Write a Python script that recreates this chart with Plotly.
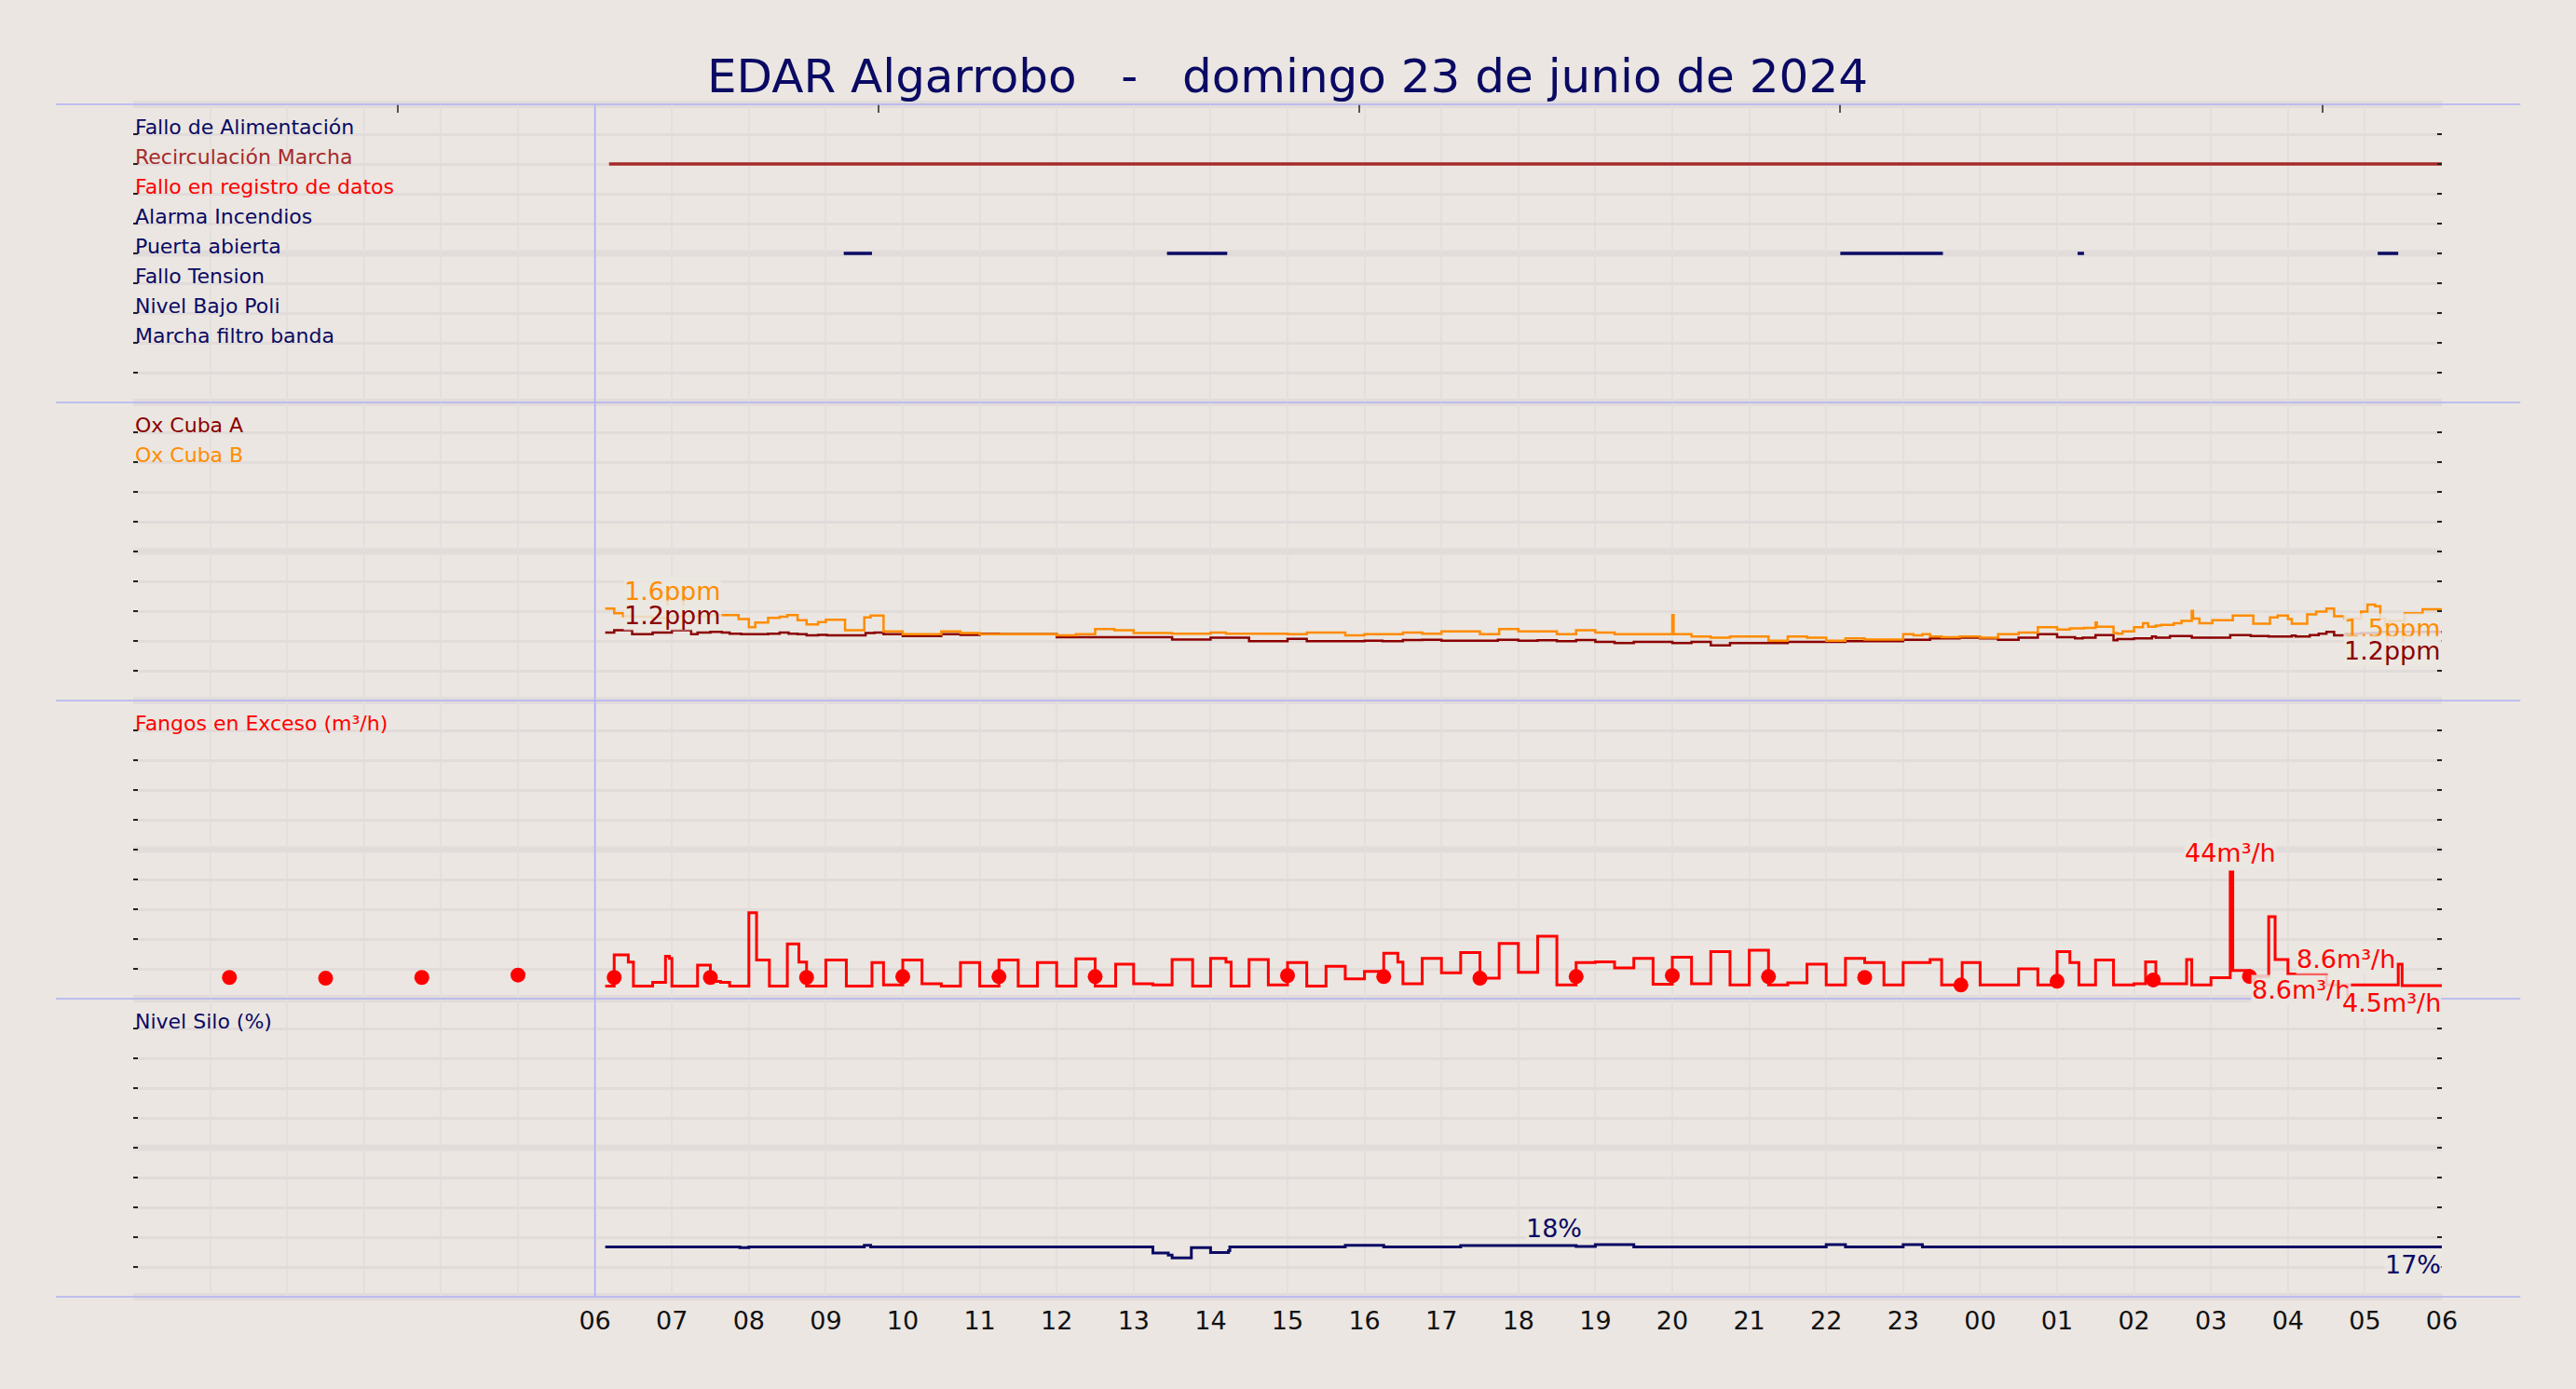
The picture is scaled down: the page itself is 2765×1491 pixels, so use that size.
import plotly.graph_objects as go
from plotly.subplots import make_subplots
from datetime import datetime, timedelta

DAY0 = datetime(2024, 6, 23)
FONT = "DejaVu Sans"
BG = "#ebe6e1"
GRID_H = "#e1dcda"
GRID_V = "#e4dfdc"
BLUE = "#b0b0f4"
NAVY = "#0a0a64"

# ---------------- data ----------------
hour_labels = ["", "", "", "", "", "", "06", "07", "08", "09", "10", "11", "12", "13", "14",
               "15", "16", "17", "18", "19", "20", "21", "22", "23", "00", "01", "02", "03",
               "04", "05", "06"]
top_tick_times = ["03:26", "09:41", "15:56", "22:11", "04:27"]

signal_labels = ["Fallo de Alimentación", "Recirculación Marcha", "Fallo en registro de datos",
                 "Alarma Incendios", "Puerta abierta", "Fallo Tension", "Nivel Bajo Poli",
                 "Marcha filtro banda"]
signal_colors = [NAVY, "#a52a2a", "#ff0000", NAVY, NAVY, NAVY, NAVY, NAVY]
signal_levels = [9, 8, 7, 6, 5, 4, 3, 2]

recirc_start = ["06:11"]
recirc_end = ["06:00"]
puerta_start = ["09:14", "13:26", "22:11", "01:16", "05:10"]
puerta_end = ["09:36", "14:13", "23:31", "01:21", "05:26"]

oxb_t = ["06:08", "06:15", "06:22", "06:30", "06:45", "07:00", "07:30", "07:52", "08:00", "08:05",
         "08:15", "08:24", "08:30", "08:38", "08:45", "08:54", "09:00", "09:15", "09:30", "09:35",
         "09:45", "10:00", "10:30", "10:45", "11:00", "12:00", "12:15", "12:30", "12:45", "13:00",
         "13:30", "14:00", "14:12", "15:00", "15:15", "15:45", "16:00", "16:30", "16:45", "17:00",
         "17:30", "17:45", "18:00", "18:30", "18:45", "19:00", "19:15", "20:00", "20:01", "20:15",
         "20:30", "20:45", "21:15", "21:30", "21:45", "22:00", "22:15", "22:30", "23:00", "23:08",
         "23:15", "23:21", "23:30", "23:44", "00:00", "00:14", "00:30", "00:45", "01:00", "01:10",
         "01:21", "01:30", "01:31", "01:44", "01:47", "01:51", "02:00", "02:07", "02:11", "02:17",
         "02:21", "02:31", "02:37", "02:45", "02:46", "02:51", "03:01", "03:17", "03:33", "03:46",
         "03:52", "04:00", "04:03", "04:15", "04:22", "04:30", "04:36", "04:44", "04:57", "05:02",
         "05:08", "05:12", "05:16", "05:19", "05:31", "05:45", "06:00"]
oxb_v = [1.58, 1.50, 1.45, 1.44, 1.42, 1.45, 1.47, 1.40, 1.26, 1.34,
         1.42, 1.44, 1.47, 1.38, 1.31, 1.35, 1.39, 1.21, 1.43, 1.46,
         1.19, 1.14, 1.19, 1.16, 1.14, 1.12, 1.14, 1.23, 1.21, 1.16,
         1.15, 1.17, 1.15, 1.14, 1.17, 1.12, 1.14, 1.17, 1.15, 1.19,
         1.14, 1.23, 1.19, 1.14, 1.21, 1.17, 1.14, 1.47, 1.14, 1.10,
         1.08, 1.10, 1.03, 1.10, 1.08, 1.03, 1.07, 1.05, 1.14, 1.12,
         1.14, 1.10, 1.09, 1.10, 1.08, 1.14, 1.17, 1.26, 1.22, 1.24,
         1.25, 1.34, 1.27, 1.16, 1.15, 1.19, 1.26, 1.33, 1.27, 1.29,
         1.30, 1.33, 1.37, 1.54, 1.41, 1.33, 1.38, 1.46, 1.32, 1.43,
         1.46, 1.40, 1.32, 1.48, 1.53, 1.58, 1.45, 1.41, 1.53, 1.65,
         1.62, 1.41, 1.29, 1.37, 1.50, 1.57, 1.57]

oxa_t = ["06:08", "06:15", "06:29", "06:45", "07:00", "07:15", "07:20", "07:30", "07:39", "07:45",
         "07:54", "08:15", "08:24", "08:31", "08:38", "08:45", "08:54", "09:01", "09:31", "09:38",
         "09:45", "10:00", "10:30", "10:45", "11:00", "11:15", "12:00", "13:30", "14:00", "14:30",
         "15:00", "15:15", "16:00", "16:14", "16:30", "16:45", "17:00", "17:44", "18:00", "18:15",
         "18:30", "18:45", "19:00", "19:15", "19:30", "20:00", "20:15", "20:30", "20:45", "21:30",
         "22:15", "23:00", "23:21", "23:44", "00:00", "00:14", "00:30", "00:45", "01:00", "01:14",
         "01:20", "01:30", "01:44", "01:47", "02:00", "02:14", "02:17", "02:28", "02:45", "03:15",
         "03:31", "03:45", "04:03", "04:06", "04:17", "04:24", "04:30", "04:36", "04:45", "04:57",
         "05:11", "06:00"]
oxa_v = [1.17, 1.21, 1.14, 1.17, 1.21, 1.14, 1.17, 1.18, 1.17, 1.15,
         1.14, 1.15, 1.17, 1.15, 1.14, 1.12, 1.13, 1.12, 1.16, 1.17,
         1.14, 1.11, 1.14, 1.13, 1.15, 1.14, 1.09, 1.05, 1.08, 1.02,
         1.06, 1.02, 1.03, 1.02, 1.04, 1.045, 1.03, 1.045, 1.03, 1.035,
         1.02, 1.04, 1.01, 0.99, 1.01, 0.99, 1.01, 0.95, 0.99, 1.01,
         1.02, 1.045, 1.07, 1.08, 1.07, 1.045, 1.08, 1.14, 1.09, 1.07,
         1.08, 1.125, 1.035, 1.055, 1.07, 1.10, 1.08, 1.11, 1.08, 1.125,
         1.11, 1.10, 1.115, 1.10, 1.125, 1.15, 1.18, 1.12, 1.15, 1.16,
         1.18, 1.18]

fangos_t = ["06:08", "06:15", "06:26", "06:30", "06:45", "06:55", "06:58", "07:00", "07:20", "07:30",
            "07:38", "07:45", "08:00", "08:06", "08:16", "08:30", "08:39", "08:45", "09:00", "09:16",
            "09:36", "09:45", "10:00", "10:15", "10:30", "10:45", "11:00", "11:15", "11:30", "11:45",
            "12:00", "12:15", "12:30", "12:46", "13:00", "13:15", "13:30", "13:46", "14:00", "14:12",
            "14:16", "14:30", "14:45", "15:00", "15:15", "15:30", "15:45", "16:00", "16:15", "16:26",
            "16:30", "16:45", "17:00", "17:15", "17:30", "17:45", "18:00", "18:15", "18:30", "18:45",
            "19:00", "19:15", "19:30", "19:45", "20:00", "20:15", "20:30", "20:45", "21:00", "21:15",
            "21:30", "21:45", "22:00", "22:15", "22:30", "22:45", "23:00", "23:21", "23:30", "23:46",
            "00:00", "00:30", "00:45", "01:00", "01:10", "01:17", "01:30", "01:44", "02:00", "02:09",
            "02:17", "02:41", "02:45", "03:00", "03:15", "03:17", "03:30", "03:45", "03:50", "04:00",
            "04:30", "05:00", "05:26", "05:29", "06:00"]
fangos_v = [4.4, 15.2, 12.7, 4.4, 5.7, 14.7, 14.0, 4.4, 11.65, 6.0,
            5.7, 4.4, 29.8, 13.4, 4.4, 19.0, 12.7, 4.4, 13.4, 4.4,
            12.5, 4.75, 13.4, 5.2, 4.4, 12.5, 4.4, 13.4, 4.4, 12.5,
            4.4, 13.8, 4.4, 12.0, 5.2, 4.75, 13.6, 4.4, 14.0, 12.7,
            4.4, 13.6, 4.75, 12.5, 4.4, 11.2, 6.9, 9.5, 15.75, 12.7,
            5.2, 14.0, 8.95, 16.0, 7.1, 19.2, 9.1, 21.7, 4.75, 12.5,
            12.8, 10.7, 14.0, 5.0, 14.4, 5.2, 16.3, 4.75, 16.8, 4.75,
            5.5, 12.0, 4.75, 14.0, 12.5, 4.75, 12.5, 13.6, 4.75, 12.5,
            4.75, 10.35, 4.75, 16.3, 12.5, 4.75, 13.4, 4.75, 5.2, 12.8,
            5.2, 13.6, 4.75, 7.3, 44.0, 9.8, 7.7, 28.5, 13.6, 8.6,
            4.75, 4.75, 12.0, 4.5, 4.5]

dots_t = ["01:15", "02:30", "03:45", "05:00", "06:15", "07:30", "08:45", "10:00", "11:15", "12:30",
          "15:00", "16:15", "17:30", "18:45", "20:00", "21:15", "22:30", "23:45", "01:00", "02:15",
          "03:30"]
dots_v = [7.35, 7.1, 7.35, 8.2, 7.35, 7.35, 7.35, 7.65, 7.65, 7.65,
          8.0, 7.65, 7.1, 7.65, 8.0, 7.65, 7.35, 4.75, 6.05, 6.5,
          7.7]

silo_t = ["06:08", "07:53", "08:00", "09:30", "09:35", "13:15", "13:27", "13:30", "13:45", "14:00",
          "14:14", "14:15", "15:45", "16:15", "17:15", "18:45", "19:00", "19:30", "22:00", "22:15",
          "23:00", "23:15", "06:00"]
silo_v = [17.3, 17.05, 17.3, 17.9, 17.3, 15.2, 14.5, 13.5, 17.05, 15.4,
          16.0, 17.3, 17.9, 17.3, 17.8, 17.5, 18.1, 17.3, 18.1, 17.3,
          18.1, 17.3, 17.3]


# ---------------- helpers ----------------
def to_dt(times, start_day=0):
    out, day, prev = [], start_day, None
    for s in times:
        h, m = map(int, s.split(":"))
        mins = h * 60 + m
        if prev is not None and mins < prev:
            day += 1
        prev = mins
        out.append(DAY0 + timedelta(days=day, hours=h, minutes=m))
    return out


def t1(s, day):
    h, m = map(int, s.split(":"))
    return DAY0 + timedelta(days=day, hours=h, minutes=m)


def segments(starts, ends, level):
    xs, ys = [], []
    s_dt = to_dt(starts)
    e_dt = to_dt(ends)
    for a, b in zip(s_dt, e_dt):
        if b < a:
            b = b + timedelta(days=1)
        xs += [a, b, None]
        ys += [level, level, None]
    return xs, ys


X0 = DAY0
X1 = DAY0 + timedelta(hours=30)
tickvals = [DAY0 + timedelta(hours=h) for h in range(31)]

fig = make_subplots(rows=4, cols=1, shared_xaxes=True, vertical_spacing=0)

# panel 1 signals
rx, ry = segments(recirc_start, recirc_end, signal_levels[1])
fig.add_trace(go.Scatter(x=rx, y=ry, mode="lines", line=dict(color="#a52a2a", width=3.5),
                         hoverinfo="skip"), row=1, col=1)
px_, py_ = segments(puerta_start, puerta_end, signal_levels[4])
fig.add_trace(go.Scatter(x=px_, y=py_, mode="lines", line=dict(color=NAVY, width=3.5),
                         hoverinfo="skip"), row=1, col=1)

# panel 2 oxygen
fig.add_trace(go.Scatter(x=to_dt(oxa_t), y=oxa_v, mode="lines", line_shape="hv",
                         line=dict(color="#8b0000", width=2.5), name="Ox Cuba A"), row=2, col=1)
fig.add_trace(go.Scatter(x=to_dt(oxb_t), y=oxb_v, mode="lines", line_shape="hv",
                         line=dict(color="#ff8c00", width=2.5), name="Ox Cuba B"), row=2, col=1)

# panel 3 fangos
fig.add_trace(go.Scatter(x=to_dt(fangos_t), y=fangos_v, mode="lines", line_shape="hv",
                         line=dict(color="#ff0000", width=3), name="Fangos"), row=3, col=1)
fig.add_trace(go.Scatter(x=to_dt(dots_t), y=dots_v, mode="markers",
                         marker=dict(color="#ff0000", size=16), name="Fangos pts"), row=3, col=1)

# panel 4 silo
fig.add_trace(go.Scatter(x=to_dt(silo_t), y=silo_v, mode="lines", line_shape="hv",
                         line=dict(color=NAVY, width=3), name="Silo"), row=4, col=1)

# dummy for top tick axis
fig.add_trace(go.Scatter(x=[X0], y=[None], xaxis="x5", yaxis="y", showlegend=False,
                         hoverinfo="skip"))

y_ranges = [(0, 10), (0, 5.12), (0, 103.5), (0, 103.5)]
for i, (lo, hi) in enumerate(y_ranges, start=1):
    fig.update_yaxes(row=i, col=1, range=[lo, hi], tick0=lo, dtick=(hi - lo) / 10,
                     showgrid=True, gridcolor=GRID_H, gridwidth=3, zeroline=False,
                     showticklabels=False, ticks="inside", ticklen=5, tickwidth=2,
                     tickcolor="#222", mirror="ticks", showline=False, fixedrange=True)
    fig.update_xaxes(row=i, col=1, type="date", range=[X0, X1], tickvals=tickvals,
                     ticktext=hour_labels, showgrid=True, gridcolor=GRID_V, gridwidth=2,
                     zeroline=False, ticks="", showline=False,
                     showticklabels=(i == 4))

fig.update_xaxes(row=4, col=1, tickfont=dict(family=FONT, size=27, color="#111"),
                 ticklabelstandoff=7)

fig.update_layout(
    xaxis5=dict(overlaying="x", anchor="y", side="top", type="date", range=[X0, X1],
                tickvals=to_dt(top_tick_times), ticks="inside", ticklen=9, tickwidth=2,
                tickcolor="#555", showticklabels=False, showgrid=False, zeroline=False,
                showline=False),
)

# ---------------- annotations ----------------
ann = []
for lab, col, lev in zip(signal_labels, signal_colors, signal_levels):
    ann.append(dict(xref="x domain", yref="y", x=0, y=lev, text=lab, xanchor="left",
                    yanchor="bottom", showarrow=False, yshift=-7,
                    font=dict(family=FONT, size=22, color=col)))
panel_titles = [("x2 domain", "y2 domain", 0.9, "Ox Cuba A", "#8b0000"),
                ("x2 domain", "y2 domain", 0.8, "Ox Cuba B", "#ff8c00"),
                ("x3 domain", "y3 domain", 0.9, "Fangos en Exceso (m³/h)", "#ff0000"),
                ("x4 domain", "y4 domain", 0.9, "Nivel Silo (%)", NAVY)]
for xr, yr, yy, txt, col in panel_titles:
    ann.append(dict(xref=xr, yref=yr, x=0, y=yy, text=txt, xanchor="left", yanchor="bottom",
                    showarrow=False, yshift=-7, font=dict(family=FONT, size=22, color=col)))

LBG = "rgba(235,230,225,0.85)"
value_labels = [
    ("x2", "y2", t1("06:22", 0), 1.88, "1.6ppm", "#ff8c00", "left", 0),
    ("x2", "y2", t1("06:22", 0), 1.46, "1.2ppm", "#8b0000", "left", 0),
    ("x2", "y2", X1, 1.24, "1.5ppm", "#ff8c00", "right", 0),
    ("x2", "y2", X1, 0.86, "1.2ppm", "#8b0000", "right", 0),
    ("x3", "y3", t1("03:15", 1), 50.5, "44m³/h", "#ff0000", "center", 0),
    ("x3", "y3", t1("04:06", 1), 13.6, "8.6m³/h", "#ff0000", "left", 0),
    ("x3", "y3", t1("03:31", 1), 3.2, "8.6m³/h", "#ff0000", "left", 0),
    ("x3", "y3", X1, 0, "4.5m³/h", "#ff0000", "right", -4),
    ("x4", "y4", t1("18:05", 0), 23.9, "18%", NAVY, "left", 0),
    ("x4", "y4", X1, 11.3, "17%", NAVY, "right", 0),
]
for xr, yr, xx, yy, txt, col, xa, ys in value_labels:
    ann.append(dict(xref=xr, yref=yr, x=xx, y=yy, text=txt, xanchor=xa, yanchor="middle",
                    showarrow=False, bgcolor=LBG, borderpad=0, yshift=ys,
                    font=dict(family=FONT, size=27, color=col)))

# ---------------- shapes ----------------
shapes = []
for yy in [0.125, 0.375, 0.625, 0.875]:
    shapes.append(dict(type="line", xref="paper", yref="paper", x0=0, x1=1, y0=yy, y1=yy,
                       line=dict(color=GRID_H, width=7), layer="below"))
for yy in [0, 0.25, 0.5, 0.75, 1]:
    shapes.append(dict(type="line", xref="paper", yref="paper", x0=0, x1=1, y0=yy, y1=yy,
                       line=dict(color=GRID_H, width=8), layer="below"))
    shapes.append(dict(type="line", xref="paper", yref="paper", x0=-0.0335, x1=1.034,
                       y0=yy, y1=yy, line=dict(color=BLUE, width=1.6), layer="above"))
shapes.append(dict(type="line", xref="x", yref="paper", x0=tickvals[6], x1=tickvals[6],
                   y0=0, y1=1, line=dict(color=BLUE, width=1.6), layer="above"))

fig.update_layout(
    width=2765, height=1491,
    margin=dict(l=143, r=144, t=112, b=99),
    paper_bgcolor=BG, plot_bgcolor="rgba(0,0,0,0)",
    showlegend=False,
    font=dict(family=FONT),
    title=dict(text="EDAR Algarrobo\u00a0\u00a0\u00a0-\u00a0\u00a0\u00a0domingo 23 de junio de 2024",
               x=0.5, xref="paper", xanchor="center", y=1 - 81 / 1491, yanchor="middle",
               font=dict(family=FONT, size=50, color=NAVY)),
    annotations=ann,
    shapes=shapes,
)

fig.write_html("out.html", config={"displayModeBar": False},
               post_script="document.body.style.margin='0';")
